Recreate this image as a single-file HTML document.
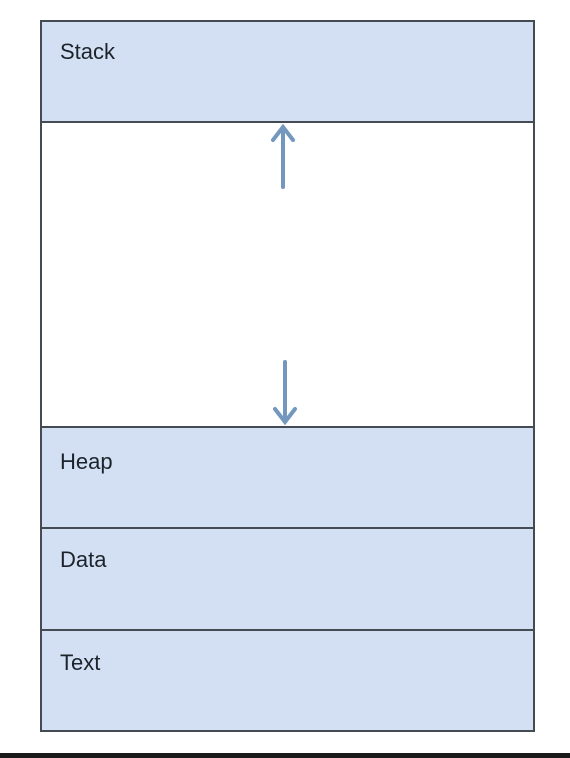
<!DOCTYPE html>
<html><head><style>
html,body{margin:0;padding:0;background:#fff;width:570px;height:758px;overflow:hidden;position:relative;font-family:"Liberation Sans",sans-serif;}
</style></head><body>
<svg style="position:absolute;left:0;top:0" width="570" height="758">
<rect x="41" y="21" width="493" height="101" fill="#d3e0f3"/>
<rect x="41" y="427" width="493" height="304" fill="#d3e0f3"/>
<g stroke="#444b52" stroke-width="2">
<rect x="41" y="21" width="493" height="710" fill="none"/>
<line x1="41" y1="122" x2="534" y2="122"/>
<line x1="41" y1="427" x2="534" y2="427"/>
<line x1="41" y1="528" x2="534" y2="528"/>
<line x1="41" y1="630" x2="534" y2="630"/>
</g>
<g font-family="Liberation Sans, sans-serif" font-size="22" fill="#1c232b">
<text x="60" y="59">Stack</text>
<text x="60" y="469">Heap</text>
<text x="60" y="567">Data</text>
<text x="60" y="670">Text</text>
</g>
<g stroke="#7397bd" stroke-width="4" fill="none" stroke-linecap="round">
<line x1="283" y1="128" x2="283" y2="187"/>
<polyline points="273,140 283,127 293,140"/>
<line x1="285" y1="362" x2="285" y2="421"/>
<polyline points="275,409 285,422 295,409"/>
</g>
<rect x="0" y="753" width="570" height="5" fill="#1a1a1a"/>
</svg>
</body></html>
